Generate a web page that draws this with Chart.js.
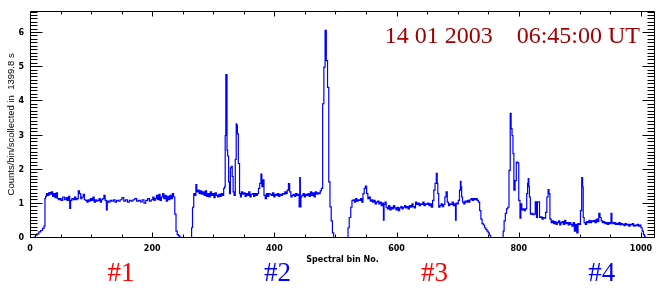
<!DOCTYPE html>
<html>
<head>
<meta charset="utf-8">
<script src="https://cdn.jsdelivr.net/npm/chart.js@4.4.1/dist/chart.umd.min.js"></script>
<style>
  body { margin: 0; background: #fff; }
  canvas { display: block; }
</style>
</head>
<body>
<canvas id="spectrum" width="666" height="288"></canvas>
<script>
// spectral bin number (x) and counts per bin (y)
var bins = [
  0, 6, 8, 10, 13, 16, 19, 22, 24, 25,
  26, 28, 30, 32, 34, 36, 38, 40, 42, 44,
  46, 48, 50, 52, 55, 58, 60, 62, 64, 66,
  67, 70, 72, 74, 76, 78, 80, 82, 84, 86,
  88, 90, 92, 94, 96, 98, 100, 102, 104, 106,
  108, 110, 112, 114, 116, 118, 120, 122, 124, 126,
  127, 130, 132, 135, 138, 140, 143, 146, 149, 152,
  155, 158, 161, 164, 167, 170, 173, 176, 179, 182,
  185, 188, 191, 194, 197, 200, 202, 204, 206, 208,
  210, 212, 214, 216, 218, 220, 222, 224, 226, 228,
  230, 232, 234, 236, 238, 240, 242, 244, 246, 248,
  264, 265, 267, 269, 271, 272, 274, 276, 278, 280,
  282, 284, 286, 288, 290, 292, 294, 296, 298, 300,
  302, 304, 306, 308, 310, 312, 314, 316, 318, 319,
  320, 321, 322, 323, 324, 326, 327, 329, 330, 332,
  333, 335, 337, 338, 339, 340, 342, 344, 345, 347,
  349, 351, 353, 355, 357, 359, 361, 363, 365, 367,
  369, 371, 373, 375, 377, 379, 380, 382, 384, 386,
  388, 390, 392, 394, 396, 398, 400, 402, 404, 406,
  408, 410, 412, 414, 416, 418, 420, 422, 424, 426,
  428, 430, 432, 434, 436, 438, 440, 441, 442, 443,
  444, 446, 448, 450, 452, 454, 456, 458, 460, 462,
  464, 466, 468, 470, 472, 474, 476, 478, 480, 482,
  484, 486, 488, 490, 492, 494, 496, 498, 520, 521,
  524, 526, 528, 530, 532, 534, 536, 538, 540, 542,
  544, 546, 548, 550, 552, 554, 556, 558, 560, 562,
  564, 566, 568, 570, 572, 574, 576, 578, 579, 580,
  582, 584, 586, 588, 590, 592, 594, 596, 598, 600,
  602, 604, 606, 608, 610, 612, 614, 616, 618, 620,
  622, 624, 626, 628, 630, 632, 634, 636, 638, 640,
  642, 644, 646, 648, 650, 652, 654, 656, 658, 660,
  662, 664, 666, 667, 668, 670, 672, 674, 676, 678,
  680, 682, 684, 686, 688, 690, 692, 694, 696, 697,
  698, 700, 702, 704, 705, 706, 707, 709, 711, 713,
  715, 717, 719, 721, 723, 725, 727, 729, 731, 733,
  735, 737, 739, 741, 743, 745, 747, 749, 751, 753,
  755, 774, 775, 777, 779, 781, 783, 785, 787, 788,
  790, 791, 793, 795, 797, 799, 801, 803, 804, 806,
  808, 810, 812, 814, 815, 816, 817, 818, 820, 822,
  824, 826, 828, 830, 831, 833, 835, 837, 839, 841,
  843, 845, 847, 849, 850, 852, 854, 856, 858, 860,
  862, 864, 866, 868, 870, 872, 874, 876, 878, 880,
  882, 884, 886, 888, 890, 892, 894, 896, 898, 900,
  902, 904, 905, 906, 908, 910, 912, 914, 916, 918,
  920, 922, 924, 926, 928, 930, 932, 934, 936, 938,
  940, 942, 944, 946, 948, 950, 952, 953, 955, 957,
  959, 961, 963, 965, 967, 969, 971, 973, 975, 977,
  979, 981, 983, 985, 987, 989, 991, 993, 995, 997,
  999, 1001, 1003, 1005, 1007, 1009, 1023
];
var counts = [
  0, 0, 0.03, 0.08, 0.12, 0.18, 0.22, 0.28, 0.35, 1.15,
  1.22, 1.3, 1.25, 1.33, 1.28, 1.35, 1.22, 1.3, 1.18, 1.32,
  1.15, 1.12, 1.15, 1.1, 1.2, 1.12, 1.18, 1.1, 1.22, 0.87,
  1.1, 1.15, 1.12, 1.2, 1.12, 1.15, 1.38, 1.3, 1.15, 1.2,
  1.28, 1.12, 1.1, 1.05, 1.12, 1.08, 1.15, 1.1, 1.2, 1.05,
  1.12, 1.08, 1.1, 1.15, 1.05, 1.12, 1.15, 1.25, 1.1, 0.82,
  1.08, 1.05, 1.1, 1.08, 1.12, 1.05, 1.1, 1.08, 1.12, 1.18,
  1.08, 1.12, 1.05, 1.1, 1.08, 1.12, 1.15, 1.08, 1.1, 1.06,
  1.12, 1.02, 1.1, 1.15, 1.08, 1.12, 1.2, 1.1, 1.15, 1.25,
  1.12, 1.28, 1.1, 1.2, 1.3, 1.15, 1.25, 1.08, 1.22, 1.12,
  1.25, 1.15, 1.3, 1.2, 0.7, 0.2, 0.1, 0.06, 0.03, 0,
  0, 0.3, 0.9, 1.3, 1.25, 1.56, 1.35, 1.4, 1.3, 1.38,
  1.28, 1.35, 1.25, 1.38, 1.22, 1.3, 1.2, 1.35, 1.25, 1.3,
  1.18, 1.32, 1.25, 1.2, 1.28, 1.22, 1.3, 1.25, 1.45, 1.5,
  3.0, 4.78, 4.78, 2.57, 2.4, 1.64, 1.3, 2.05, 2.1, 1.8,
  1.35, 1.25, 2.3, 3.34, 3.3, 3.05, 2.18, 1.3, 1.2, 1.35,
  1.28, 1.32, 1.22, 1.3, 1.25, 1.35, 1.2, 1.28, 1.3, 1.22,
  1.3, 1.25, 1.3, 1.45, 1.6, 1.87, 1.5, 1.7, 1.25, 1.15,
  1.3, 1.22, 1.3, 1.28, 1.25, 1.32, 1.2, 1.28, 1.25, 1.3,
  1.22, 1.28, 1.25, 1.3, 1.28, 1.35, 1.3, 1.4, 1.59, 1.35,
  1.2, 1.25, 1.28, 1.22, 1.3, 1.25, 1.28, 0.91, 1.77, 0.91,
  1.2, 1.25, 1.3, 1.2, 1.28, 1.25, 1.3, 1.22, 1.35, 1.25,
  1.32, 1.2, 1.35, 1.28, 1.32, 1.3, 1.38, 1.45, 3.93, 5.0,
  6.08, 5.19, 4.41, 1.64, 0.91, 0.5, 0.15, 0, 0, 0.3,
  0.6, 0.9, 1.1, 1.12, 1.05, 1.15, 1.08, 1.12, 1.1, 1.15,
  1.05, 1.3, 1.45, 1.52, 1.3, 1.15, 1.2, 1.08, 1.12, 1.05,
  1.1, 1.0, 1.05, 1.08, 1.0, 1.05, 0.95, 1.02, 0.52, 0.98,
  1.05, 0.9, 0.85, 0.95, 0.82, 0.9, 0.85, 0.95, 0.88, 0.82,
  0.9, 0.8, 0.88, 0.92, 0.85, 0.9, 0.95, 0.88, 0.92, 0.85,
  0.95, 0.9, 1.0, 0.92, 0.88, 1.05, 0.98, 1.02, 0.95, 1.0,
  0.98, 1.05, 0.95, 1.0, 0.98, 1.02, 0.95, 1.0, 0.9, 1.1,
  1.4, 1.6, 1.89, 1.6, 1.3, 0.9, 0.95, 1.0, 0.92, 0.98,
  1.2, 1.35, 1.05, 0.95, 1.0, 0.98, 1.05, 0.95, 1.0, 0.52,
  1.02, 1.0, 1.1, 1.4, 1.66, 1.5, 1.2, 1.05, 1.0, 1.08,
  1.05, 1.1, 1.05, 1.12, 1.15, 1.1, 1.15, 1.12, 1.15, 1.1,
  1.05, 0.8, 0.55, 0.42, 0.38, 0.3, 0.25, 0.2, 0.15, 0.08,
  0, 0, 0.2, 0.5, 0.72, 0.85, 0.9, 1.98, 3.65, 3.2,
  3.0, 2.47, 1.4, 1.68, 2.22, 2.2, 1.1, 0.58, 1.0, 0.82,
  0.85, 0.8, 0.85, 1.3, 1.6, 1.74, 1.5, 1.2, 0.7, 0.72,
  0.68, 0.7, 1.06, 0.6, 1.06, 1.06, 0.6, 0.62, 0.55, 0.6,
  0.58, 0.75, 1.2, 1.42, 1.3, 0.55, 0.45, 0.5, 0.42, 0.48,
  0.4, 0.45, 0.5, 0.38, 0.45, 0.48, 0.4, 0.52, 0.42, 0.45,
  0.38, 0.45, 0.4, 0.35, 0.45, 0.2, 0.4, 0.15, 0.42, 0.4,
  0.8, 1.77, 1.5, 0.6, 0.45, 0.4, 0.48, 0.45, 0.52, 0.45,
  0.5, 0.48, 0.52, 0.45, 0.55, 0.48, 0.72, 0.6, 0.5, 0.45,
  0.48, 0.42, 0.45, 0.4, 0.45, 0.42, 0.72, 0.45, 0.42, 0.45,
  0.4, 0.43, 0.4, 0.45, 0.38, 0.42, 0.4, 0.36, 0.42, 0.38,
  0.4, 0.35, 0.4, 0.38, 0.42, 0.35, 0.38, 0.36, 0.4, 0.35,
  0.38, 0.3, 0.2, 0.1, 0.03, 0, 0
];
// tick labels
var xTicks = [0, 200, 400, 600, 800, 1000];
var yTicks = [0, 1, 2, 3, 4, 5, 6];
// texts
var dateText = '14 01 2003    06:45:00 UT';
var windowNames = ['#1', '#2', '#3', '#4'];
var windowColors = ['#ff0000', '#0000ff', '#ff0000', '#0000ff'];

var points = [];
for (var i = 0; i < bins.length; i++) {
  points.push({ x: bins[i], y: counts[i] });
}

// frame, inward tick marks and the annotations
var framePlugin = {
  id: 'framePlugin',
  afterDraw: function(chart) {
    var ctx = chart.ctx;
    var a = chart.chartArea;
    var xs = chart.scales.x, ys = chart.scales.y;
    var L = Math.round(a.left) + 0.5, R = Math.round(a.right) - 0.5;
    var T = Math.round(a.top) + 0.5, B = Math.round(a.bottom) - 0.5;
    ctx.save();
    ctx.strokeStyle = '#000';
    ctx.lineWidth = 1;
    ctx.beginPath();
    ctx.rect(L, T, R - L, B - T);
    // y ticks every 0.1, long at integers
    for (var k = 0; k <= 66; k++) {
      var py = Math.round(ys.getPixelForValue(k / 10)) - 0.5;
      var len = (k % 10 === 0) ? 12 : 7;
      ctx.moveTo(L, py); ctx.lineTo(L + len, py);
      ctx.moveTo(R, py); ctx.lineTo(R - len, py);
    }
    // x ticks every 50, long at 200s
    for (var b = 0; b <= 1000; b += 50) {
      var px = Math.round(xs.getPixelForValue(b)) + 0.5;
      var tl = (b % 200 === 0) ? 5 : 3;
      ctx.moveTo(px, B); ctx.lineTo(px, B - tl);
      ctx.moveTo(px, T); ctx.lineTo(px, T + tl);
    }
    ctx.stroke();

    ctx.fillStyle = '#a00000';
    ctx.font = '24px "Liberation Serif"';
    ctx.textAlign = 'right';
    ctx.textBaseline = 'alphabetic';
    ctx.fillText(dateText, a.right - 15, 43);

    var centres = [149, 405, 662, 936];
    ctx.font = '27px "Liberation Serif"';
    ctx.textAlign = 'center';
    for (var w = 0; w < windowNames.length; w++) {
      ctx.fillStyle = windowColors[w];
      ctx.fillText(windowNames[w], xs.getPixelForValue(centres[w]), 281);
    }
    ctx.restore();
  }
};

new Chart(document.getElementById('spectrum'), {
  type: 'line',
  data: {
    datasets: [{
      data: points,
      borderColor: '#0000ff',
      borderWidth: 1.2,
      pointRadius: 0,
      stepped: 'middle',
      fill: false
    }]
  },
  plugins: [framePlugin],
  options: {
    responsive: false,
    animation: false,
    layout: { padding: { left: 0, right: 11, top: 8, bottom: 0 } },
    plugins: { legend: { display: false }, tooltip: { enabled: false } },
    scales: {
      x: {
        type: 'linear',
        min: 0,
        max: 1023,
        grid: { display: false, drawTicks: false },
        border: { display: false },
        afterBuildTicks: function(s) { s.ticks = xTicks.map(function(v) { return { value: v }; }); },
        afterFit: function(s) { s.height = 50; },
        ticks: {
          color: '#000',
          padding: 6,
          maxRotation: 0,
          autoSkip: false,
          callback: function(v) { return String(v); },
          font: { family: 'DejaVu Sans', size: 8, weight: 'bold' }
        },
        title: {
          display: true,
          text: 'Spectral bin No.',
          color: '#000',
          font: { family: 'DejaVu Sans', size: 8, weight: 'bold' },
          padding: { top: 0, bottom: 23 }
        }
      },
      y: {
        min: 0,
        max: 6.65,
        grid: { display: false, drawTicks: false },
        border: { display: false },
        afterBuildTicks: function(s) { s.ticks = yTicks.map(function(v) { return { value: v }; }); },
        afterFit: function(s) { s.width = 30; },
        ticks: {
          color: '#000',
          padding: 6,
          callback: function(v) { return String(v); },
          font: { family: 'DejaVu Sans', size: 8, weight: 'bold' }
        },
        title: {
          display: true,
          text: 'Counts/bin/scollected in  1399.8 s',
          color: '#000',
          font: { family: 'Liberation Sans', size: 9.5 },
          padding: { top: 6, bottom: 0 }
        }
      }
    }
  }
});
</script>
</body>
</html>
